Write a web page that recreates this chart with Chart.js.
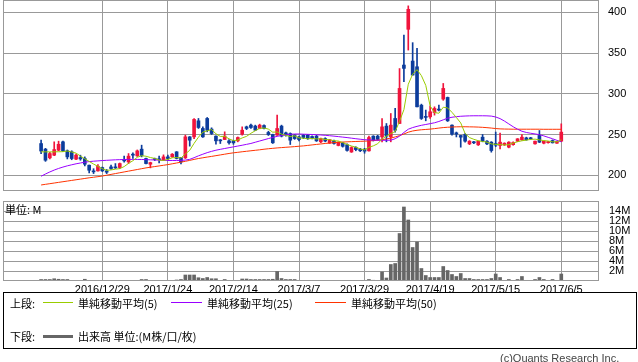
<!DOCTYPE html>
<html><head><meta charset="utf-8">
<script src="https://cdn.jsdelivr.net/npm/chart.js@4.4.0/dist/chart.umd.min.js"></script>
<style>
body{margin:0;background:#fff;width:638px;height:362px;overflow:hidden;position:relative;font-family:"Noto Sans CJK JP",sans-serif;}
canvas{position:absolute;left:0;}
#c1{top:0;}
#c2{top:200px;}
.t{position:absolute;font-size:11px;line-height:12px;color:#000;white-space:nowrap;}
.ln{position:absolute;height:1px;}
</style></head><body>
<canvas id="c1" width="638" height="191"></canvas>
<canvas id="c2" width="638" height="100"></canvas>
<div class="t" style="left:5px;top:203px;">単位: M</div>
<div style="position:absolute;left:3px;top:292px;width:634px;height:57px;border:1px solid #000;box-sizing:border-box;"></div>
<div class="t" style="left:10px;top:297px;">上段:</div>
<div class="ln" style="left:43px;top:302px;width:30px;background:#99cc00;"></div>
<div class="t" style="left:78px;top:297px;">単純移動平均(5)</div>
<div class="ln" style="left:171px;top:302px;width:31px;background:#9900ff;"></div>
<div class="t" style="left:207px;top:297px;">単純移動平均(25)</div>
<div class="ln" style="left:315px;top:302px;width:31px;background:#ff3300;"></div>
<div class="t" style="left:351px;top:297px;">単純移動平均(50)</div>
<div class="t" style="left:10px;top:330px;">下段:</div>
<div class="ln" style="left:43px;top:335px;width:30px;height:3px;background:#666;"></div>
<div class="t" style="left:78px;top:330px;">出来高 単位:(M株/口/枚)</div>
<div class="t" style="left:500px;top:352px;color:#444;font-family:'Liberation Sans',sans-serif;">(c)Quants Research Inc.</div>
<script>
const tickIdx = [14,29,44,59,74,89,104,119];
const tickLabels = ["2016/12/29","2017/1/24","2017/2/14","2017/3/7","2017/3/29","2017/4/19","2017/5/15","2017/6/5"];
const priceTicks = [200,250,300,350,400];
const volTicks = [2,4,6,8,10,12,14];

const open = [238.9,232,221.3,224.6,230.7,241,230,228.7,219.7,221.7, 220.5,212.3,205.3,205.3,209.4,205.3,210.2,210.2,209.4,219.3, 216.4,225.8,223.8,232,220.5,213.5,220.5,220,218.4,222.5, 222.5,228.7,221.7,221.3,247.1,247.1,266.8,257.4,269.7,256.6, 248,243,243.8,242.2,242.2,242.2,250.4,259.4,261.5,260.3, 257.4,261,252.5,250,249.2,260.3,252,251.2,249.2,247, 249,249,247.5,248,241,245,239.5,242,236.5,239.5, 237.5,228.5,234,232,232,229.9,248,248,247.1,260.3, 247.1,269.7,263.5,335.3,379.2,340.2,333.2,286,272,271.7, 277,281.2,293.5,295.5,261.5,252,248.8,250,238.5,240.5, 237.3,246.7,241.8,240.6,238.9,236.5,237.3,234.4,237.5,241.8, 243.4,245.8,245.8,238.5,248.8,239.3,240,242.6,239.3,241.8];
const high = [243,233,228,241,241.8,242,231,230,226,224.6, 222.5,212.5,208,213,210,207,212.3,214.3,215,223.4, 226.6,227.5,231,236.9,221,216,221,223.4,225,224.6, 226.6,229,222,249.2,247.5,269.7,269.7,259.4,270.9,258.2, 248.5,243.8,253.3,243.8,243,247,259.4,260.3,262.7,261.5, 262.7,262,254,250.4,273.8,261.5,253,252,250,248, 250,250,248.5,249,245.5,246,244,243,241,240.5, 238.5,235,235,233,233,248,248.5,249,269.7,263.5, 275.8,282,331,372.2,408,362.8,355.8,287.3,280,284.8, 284,286,312.7,296,262,253,249,251,242.5,241.5, 242,250,242.5,241.2,253,251.6,239.8,241.2,241,245, 250,246.7,246.5,242,254.9,242,241.5,243.4,241.5,263.1];
const low = [226.6,217,220,224,230,229,220,219,219,218.4, 211.4,202.8,202,205,204.5,202,207,208.2,208,216, 214.3,220.5,223,222.5,214,209,218,215,218,218.4, 222,220,214,220.5,235.7,245,257.4,246.3,253.3,250, 238,238.9,243.8,238,238,241,249.2,256,257.4,255, 257,257,248.8,239,249,247,248,237.7,244,242, 245,244,244.5,241.5,240,241,239,238,236,234.5, 229.5,228,230,229,227,229.5,242,243,241,241, 241,253,263.5,314.8,353.7,323,284,268.5,266.8,269.7, 273.8,279,292,266,249.2,247,234.4,240.5,237.5,238.8, 236.5,241,237.5,228.3,235,232.4,236.5,233.6,236.8,241.2, 243,243,244,238,240,238.5,239.5,239.5,239,241.5];
const close = [229.7,218.4,226.6,231.5,238,230,222.5,220.5,224.6,220, 213.5,206.1,204.1,211,205.3,203.7,208.2,209,214.3,217.6, 223.4,224.6,229.9,224.2,214.3,215.5,219.3,219,222.5,220.5, 225.8,220.5,216.4,247.1,243,268.5,258.6,247.1,255.3,251.2, 242.2,242.2,248,239.8,239.8,246.3,255.3,257.4,258.6,255.3, 261.5,257.4,250,239.8,257.4,248,249.2,243,245,243.8, 246.3,245,245.5,242.2,245,242,243.5,239,240.5,235.5, 230.5,234,231.5,230,229.5,246.3,243,244,259.4,248, 261.5,255.3,306.6,331.2,403.8,323,284,269.7,271,277.9, 282,280,306.6,266.8,250.4,250.5,246.7,241.8,241.8,239.8, 241.8,241.8,238.5,230.3,236.9,240.6,239.3,240.6,240.2,244.7, 246.7,243.4,244.7,241.8,240.6,241.8,241.2,239.8,241.4,252.9];
const volume = [0.3,0.3,0.3,0.45,0.35,0.3,0.3,0.1,0.1,0.1, 0.35,0.1,0.1,0.1,0.08,0.08,0.08,0.08,0.08,0.1, 0.1,0.1,0.1,0.3,0.3,0.1,0.1,0.1,0.1,0.1, 0.1,0.2,0.3,1.2,1.2,1.2,0.65,0.5,0.7,0.45, 0.45,0.1,0.3,0.1,0.1,0.1,0.4,0.4,0.3,0.3, 0.3,0.3,0.3,0.35,1.9,0.5,0.3,0.3,0.3,0.1, 0.1,0.1,0.1,0.1,0.1,0.1,0.1,0.1,0.1,0.1, 0.1,0.1,0.1,0.1,0.1,0.3,0.15,0.1,1.8,0.6, 3.3,3.5,9.5,14.8,12.2,6.7,7.8,2.5,1.1,0.7, 0.7,0.7,2.9,2.1,1.3,0.9,1.5,0.5,0.5,0.3, 0.3,0.3,0.3,0.5,1.4,0.7,0.1,0.3,0.1,0.3, 0.9,0.1,0.1,0.3,0.7,0.3,0.1,0.3,0.1,1.4];
const ma5 = [228.7,228.7,228.6,228.7,228.8,228.9,229.7,228.5,227.1,223.5, 220.2,216.9,213.7,210.9,208,206,206.5,207.4,208.1,210.6, 214.5,217.8,222,223.9,223.3,221.7,220.6,218.5,218.1,219.4, 221.4,221.7,221.1,226.1,230.6,239.1,246.7,252.9,254.5,256.1, 250.9,247.6,247.8,244.7,242.4,243.2,245.8,247.7,251.5,254.6, 257.6,258,256.6,252.8,253.2,250.5,248.9,247.5,248.5,245.8, 245.5,244.6,245.1,244.6,244.8,243.9,243.6,242.3,242,240.1, 237.8,235.9,234.4,232.3,231.1,234.3,236.1,238.6,244.4,248.1, 251.2,253.6,266.2,280.5,311.7,324,329.7,322.3,310.3,285.1, 276.9,276.1,283.5,282.7,277.2,270.9,264.2,251.2,246.2,244.1, 242.4,241.4,240.7,238.4,237.9,237.6,237.1,237.5,239.5,241.1, 242.3,243.1,243.9,244.3,243.4,242.5,242,241,241,243.4];
const ma25 = [198.7,201.5,204,206.3,208.3,210,211.5,212.8,214,215, 216,216.7,217.2,217.6,218,218.3,218.6,218.9,219.1,219.3, 219.4,219.4,219.4,219.3,219.1,218.9,218.7,218.5,218.3,218.1, 218.1,218.1,218.2,218.6,219.5,221.5,223.8,225.8,227.7,229.3, 230.7,231.8,232.8,233.8,234.8,235.8,236.8,237.9,239,240.5, 242,243.5,245,246.4,247.7,248.8,249.6,250.2,250.6,250.6, 250.4,250.2,250,249.7,249.4,249,248.5,248,247.4,246.8, 246.2,245.5,244.8,244.2,243.6,243.3,243.1,243,242.9,242.9, 243,244.8,248,252.5,256.5,258.5,260,261.3,262.3,263.3, 264.4,266,268,270,271.2,271.9,272.4,272.7,272.9,273, 273,273,272.9,272.6,271.5,269.5,266.5,263,259.5,256.5, 254,252.5,251.5,250.7,249.8,248.3,246.5,244.8,242.8,241];
const ma50 = [188,188.8,189.6,190.4,191.2,192,192.8,193.6,194.4,195.2, 196,196.8,197.5,198.2,199,200,201,202,203,204, 205,206,207,208,209,209.8,210.6,211.4,212.2,213, 214,215,216,217.1,218.2,219.4,220.5,221.4,222.3,223.1, 224,224.9,225.8,226.7,227.5,228.1,228.8,229.4,230,230.6, 231.2,231.9,232.5,233,233.5,233.9,234.3,234.7,235.1,235.6, 236,236.6,237.2,237.8,238.4,239,239.5,240,240.4,240.7, 241,241.2,241.4,241.6,241.8,242.1,242.5,243,243.6,244.5, 245.6,247,248.6,250.6,252.8,254.3,255.2,255.8,256.2,256.6, 257.2,257.9,258.5,258.9,259.2,259.4,259.5,259.5,259.4,259.3, 259.1,258.8,258.4,257.9,257.3,256.9,256.7,256.6,256.5,256.5, 256.5,256.5,256.5,256.5,256.5,256.4,256.4,256.4,256.4,256.4];

const X_MIN = -8.716, X_MAX = 127.63;
const UP = '#f0143c', DOWN = '#0c3c9c', GRID = '#999999';
const idx = open.map((_, i) => i);
const candleColor = idx.map(i => close[i] >= open[i] ? UP : DOWN);

Chart.defaults.font.family = "'Liberation Sans', Arial, sans-serif";
Chart.defaults.font.size = 11;
Chart.defaults.color = '#000';

const frame = {id: 'frame', afterDraw(c) {
  const a = c.chartArea, g = c.ctx;
  g.save(); g.strokeStyle = GRID; g.lineWidth = 1;
  g.strokeRect(a.left + 0.5, a.top + 0.5, a.right - a.left - 1, a.bottom - a.top - 1);
  g.restore();
}};

function noPad(s) { s.paddingTop = 0; s.paddingBottom = 0; s.paddingLeft = 0; s.paddingRight = 0; }

function xScale(show) {
  return {
    type: 'linear', min: X_MIN, max: X_MAX, offset: false,
    afterBuildTicks: s => { s.ticks = tickIdx.map(v => ({value: v})); },
    grid: {color: GRID, drawTicks: false, offset: false},
    border: {display: false},
    ticks: {display: show, autoSkip: false, maxRotation: 0, padding: 2,
      callback: v => { const k = tickIdx.indexOf(v); return k >= 0 ? tickLabels[k] : ''; }},
    afterFit: s => { s.height = show ? 19 : 0; noPad(s); }
  };
}
function yScale(min, max, ticks, pad, fmt) {
  return {
    position: 'right', min: min, max: max,
    afterBuildTicks: s => { s.ticks = ticks.map(v => ({value: v})); },
    grid: {color: GRID, drawTicks: false}, border: {display: false},
    ticks: {padding: pad, autoSkip: false, callback: fmt},
    afterFit: s => { s.width = 39; noPad(s); }
  };
}
function line(data, color) {
  return {type: 'line', data: idx.map(i => ({x: i, y: data[i]})), borderColor: color,
    borderWidth: 1, pointRadius: 0, tension: 0, fill: false, order: 0};
}

new Chart(document.getElementById('c1'), {
  type: 'bar',
  data: {datasets: [
    line(ma5, '#99cc00'), line(ma25, '#9900ff'), line(ma50, '#ff3300'),
    {data: idx.map(i => ({x: i, y: [open[i], close[i]]})), backgroundColor: candleColor,
      barThickness: 3, minBarLength: 1, grouped: false, borderWidth: 0, order: 2},
    {data: idx.map(i => ({x: i, y: [low[i], high[i]]})), backgroundColor: candleColor,
      barThickness: 1, grouped: false, borderWidth: 0, order: 3}
  ]},
  options: {
    responsive: false, animation: false, events: [],
    layout: {padding: {left: 3, top: 0, right: 0, bottom: 0}},
    plugins: {legend: {display: false}, tooltip: {enabled: false}},
    scales: {
      x: xScale(false),
      y: yScale(180.6, 415.2, priceTicks, 9, v => String(v))
    }
  },
  plugins: [frame]
});

new Chart(document.getElementById('c2'), {
  type: 'bar',
  data: {datasets: [
    {data: idx.map(i => ({x: i, y: volume[i]})), backgroundColor: '#666666',
      barThickness: 3, grouped: false, borderWidth: 0}
  ]},
  options: {
    responsive: false, animation: false, events: [],
    layout: {padding: {left: 3, top: 1, right: 0, bottom: 0}},
    plugins: {legend: {display: false}, tooltip: {enabled: false}},
    scales: {
      x: xScale(true),
      y: yScale(0, 16, volTicks, 10, v => v + 'M')
    }
  },
  plugins: [frame]
});
</script>
</body></html>
